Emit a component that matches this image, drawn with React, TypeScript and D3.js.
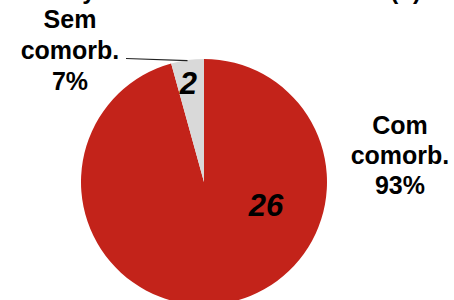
import React from 'react';
import * as d3 from 'd3';

// slices, in drawing order (clockwise from 12 o'clock)
const categories = ['Com comorb.', 'Sem comorb.'];
const counts = [26, 2];
const percents = ['93%', '7%'];
// share of the circle each slice takes in the picture
const drawnShare = [95.7, 4.3];
const colors = ['#C3231A', '#D9D9D9'];

const title = 'Comorbidity status of the total cohort (n)';

const W = 454;
const H = 300;

const App = () => {
    const cx = 204;
    const cy = 182;
    const r = 123;

    const pie = d3.pie<number>().sort(null).value(d => d);
    const arcs = pie(drawnShare);
    const arc = d3.arc<d3.PieArcDatum<number>>().innerRadius(0).outerRadius(r);

    // count labels, polar placement inside each slice
    const countPos = [
        { angle: (110 * Math.PI) / 180, radius: 66 },
        { angle: (-9 * Math.PI) / 180, radius: 100 },
    ];
    const polar = (a: number, rad: number) => [rad * Math.sin(a), -rad * Math.cos(a)];

    // leader line for the small slice
    const small = arcs[1];
    const midA = (small.startAngle + small.endAngle) / 2 - 2 * Math.PI;
    const [lx, ly] = polar(midA, r - 0.5);

    const font = "'Liberation Sans', Arial, sans-serif";

    return (
        <svg width={W} height={H} style={{ position: 'absolute', left: 0, top: 0 }}>
            <rect width={W} height={H} fill="#fff" />
            <text x={421} y={-1} textAnchor="end" fontFamily={font} fontWeight="bold" fontSize={24} fill="#000">
                {title}
            </text>
            <g transform={`translate(${cx},${cy})`}>
                {arcs.map((a, i) => (
                    <path key={i} d={arc(a) || ''} fill={colors[i]} />
                ))}
                <line x1={lx} y1={ly} x2={126 - cx} y2={58.5 - cy} stroke="#222" strokeWidth={1.2} />
                {arcs.map((a, i) => {
                    const [x, y] = polar(countPos[i].angle, countPos[i].radius);
                    return (
                        <text key={i} x={x} y={y} dy="0.36em" textAnchor="middle" fontFamily={font}
                            fontWeight="bold" fontStyle="italic" fontSize={31} fill="#000">
                            {counts[i]}
                        </text>
                    );
                })}
            </g>
            {/* category labels */}
            {[
                { x: 70, y: 28, i: 1 },
                { x: 400, y: 134, i: 0 },
            ].map(({ x, y, i }) => {
                const words = categories[i].split(' ');
                return (
                    <text key={i} x={x} y={y} textAnchor="middle" fontFamily={font} fontWeight="bold" fontSize={25} fill="#000">
                        <tspan x={x}>{words[0]}</tspan>
                        <tspan x={x} dy={i === 1 ? 31 : 30}>{words[1]}</tspan>
                        <tspan x={x} dy={i === 1 ? 31 : 30}>{percents[i]}</tspan>
                    </text>
                );
            })}
        </svg>
    );
};

export default App;
